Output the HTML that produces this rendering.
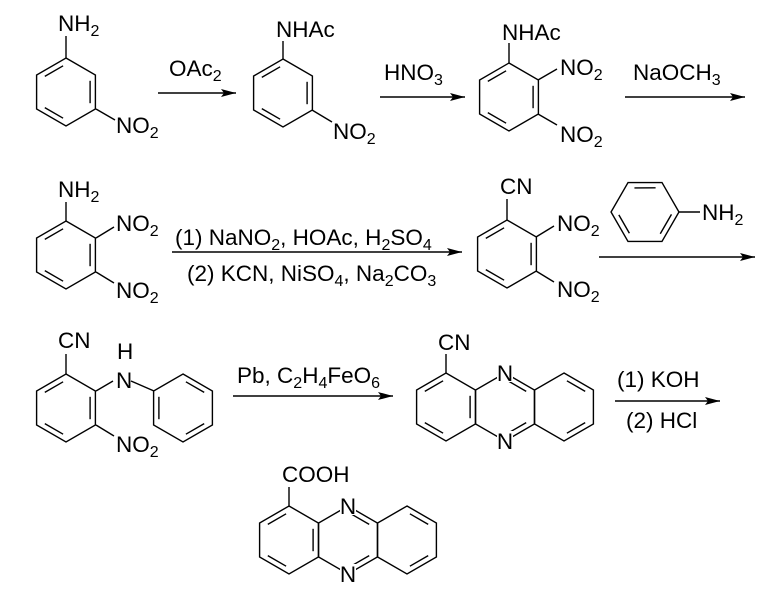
<!DOCTYPE html>
<html><head><meta charset="utf-8"><style>
html,body{margin:0;padding:0;background:#fff;}
svg{display:block;}
text{font-family:"Liberation Sans",Arial,sans-serif;font-size:22.5px;fill:#000;}
</style></head><body>
<svg width="781" height="598" viewBox="0 0 781 598" xmlns="http://www.w3.org/2000/svg">
<defs>
<marker id="ah" markerWidth="16" markerHeight="10" refX="15" refY="5" orient="auto" markerUnits="userSpaceOnUse">
<path d="M0,1 L15,5 L0,9 L3,5 Z" fill="#000"/>
</marker>
<polygon id="hex" points="0,-34 29.4,-17 29.4,17 0,34 -29.4,17 -29.4,-17" fill="none" stroke="#000" stroke-width="1.4"/>
<g id="A" stroke="#000" stroke-width="1.4">
<line x1="24.1" y1="-11.2" x2="24.1" y2="11.2"/>
<line x1="-2.9" y1="26.2" x2="-21.2" y2="15.6"/>
<line x1="-21.2" y1="-15.6" x2="-2.9" y2="-26.2"/>
</g>
<g id="B" stroke="#000" stroke-width="1.4">
<line x1="2.9" y1="-26.2" x2="21.2" y2="-15.6"/>
<line x1="21.2" y1="15.6" x2="2.9" y2="26.2"/>
<line x1="-24.1" y1="-11.2" x2="-24.1" y2="11.2"/>
</g>
<g id="P" stroke="#000" stroke-width="1.4">
<line x1="2.9" y1="-26.2" x2="21.2" y2="-15.6"/>
<line x1="21.2" y1="15.6" x2="2.9" y2="26.2"/>
</g>
</defs>
<g stroke="#000" stroke-width="1.4" fill="none">
<line x1="158" y1="93" x2="236" y2="93" marker-end="url(#ah)"/>
<line x1="380" y1="97" x2="465" y2="97" marker-end="url(#ah)"/>
<line x1="625" y1="97" x2="745" y2="97" marker-end="url(#ah)"/>
<line x1="172" y1="252" x2="462" y2="252" marker-end="url(#ah)"/>
<line x1="599" y1="257" x2="755" y2="257" marker-end="url(#ah)"/>
<line x1="233" y1="396" x2="393" y2="396" marker-end="url(#ah)"/>
<line x1="615" y1="401" x2="720" y2="401" marker-end="url(#ah)"/>
<line x1="66" y1="58" x2="66" y2="36"/>
<line x1="96" y1="109" x2="115" y2="120"/>
<line x1="283" y1="59" x2="283" y2="41"/>
<line x1="312" y1="110" x2="332" y2="122"/>
<line x1="509" y1="63" x2="509" y2="43"/>
<line x1="538" y1="80" x2="557" y2="69"/>
<line x1="538" y1="114" x2="557" y2="125"/>
<line x1="66" y1="221" x2="66" y2="202"/>
<line x1="96" y1="238" x2="114" y2="227"/>
<line x1="96" y1="272" x2="114" y2="283"/>
<line x1="507" y1="220" x2="507" y2="199"/>
<line x1="536" y1="237" x2="554" y2="226"/>
<line x1="536" y1="271" x2="554" y2="282"/>
<line x1="679" y1="212" x2="700" y2="212"/>
<line x1="66" y1="374" x2="66" y2="354"/>
<line x1="96" y1="391" x2="113" y2="381"/>
<line x1="131" y1="381" x2="154" y2="391"/>
<line x1="96" y1="425" x2="114" y2="436"/>
<line x1="446" y1="373" x2="446" y2="354"/>
<line x1="289" y1="506" x2="289" y2="487"/>
</g>
<use href="#hex" x="66" y="92"/><use href="#A" x="66" y="92"/>
<use href="#hex" x="283" y="93"/><use href="#A" x="283" y="93"/>
<use href="#hex" x="509" y="97"/><use href="#A" x="509" y="97"/>
<use href="#hex" x="66" y="255"/><use href="#A" x="66" y="255"/>
<use href="#hex" x="507" y="254"/><use href="#A" x="507" y="254"/>
<g transform="translate(645,212) rotate(30)"><use href="#hex"/><use href="#A"/></g>
<use href="#hex" x="66" y="408"/><use href="#A" x="66" y="408"/>
<use href="#hex" x="183" y="408"/><use href="#B" x="183" y="408"/>
<use href="#hex" x="446" y="407"/><use href="#A" x="446" y="407"/>
<use href="#hex" x="505" y="407"/><use href="#P" x="505" y="407"/>
<use href="#hex" x="564" y="407"/><use href="#P" x="564" y="407"/>
<use href="#hex" x="289" y="540"/><use href="#A" x="289" y="540"/>
<use href="#hex" x="348" y="540"/><use href="#P" x="348" y="540"/>
<use href="#hex" x="407" y="540"/><use href="#P" x="407" y="540"/>
<rect x="497" y="363" width="16" height="19" fill="#fff"/>
<rect x="497" y="431" width="16" height="19" fill="#fff"/>
<rect x="340" y="496" width="16" height="19" fill="#fff"/>
<rect x="340" y="564" width="16" height="19" fill="#fff"/>
<text x="58" y="31">NH<tspan dy="5" font-size="16">2</tspan></text>
<text x="116" y="133">NO<tspan dy="5" font-size="16">2</tspan></text>
<text x="169" y="76">OAc<tspan dy="5" font-size="16">2</tspan></text>
<text x="276" y="37">NHAc</text>
<text x="333" y="139">NO<tspan dy="5" font-size="16">2</tspan></text>
<text x="384" y="80">HNO<tspan dy="5" font-size="16">3</tspan></text>
<text x="502" y="40">NHAc</text>
<text x="560" y="75">NO<tspan dy="5" font-size="16">2</tspan></text>
<text x="560" y="142">NO<tspan dy="5" font-size="16">2</tspan></text>
<text x="633" y="80">NaOCH<tspan dy="5" font-size="16">3</tspan></text>
<text x="58" y="197">NH<tspan dy="5" font-size="16">2</tspan></text>
<text x="116" y="231">NO<tspan dy="5" font-size="16">2</tspan></text>
<text x="116" y="298">NO<tspan dy="5" font-size="16">2</tspan></text>
<text x="175" y="245">(1) NaNO<tspan dy="5" font-size="16">2</tspan><tspan dy="-5">, HOAc, H</tspan><tspan dy="5" font-size="16">2</tspan><tspan dy="-5">SO</tspan><tspan dy="5" font-size="16">4</tspan></text>
<text x="187" y="281">(2) KCN, NiSO<tspan dy="5" font-size="16">4</tspan><tspan dy="-5">, Na</tspan><tspan dy="5" font-size="16">2</tspan><tspan dy="-5">CO</tspan><tspan dy="5" font-size="16">3</tspan></text>
<text x="500" y="194">CN</text>
<text x="557" y="231">NO<tspan dy="5" font-size="16">2</tspan></text>
<text x="557" y="297">NO<tspan dy="5" font-size="16">2</tspan></text>
<text x="702" y="220">NH<tspan dy="5" font-size="16">2</tspan></text>
<text x="58" y="348">CN</text>
<text x="117" y="359">H</text>
<text x="116" y="388">N</text>
<text x="116" y="452">NO<tspan dy="5" font-size="16">2</tspan></text>
<text x="237" y="383">Pb, C<tspan dy="5" font-size="16">2</tspan><tspan dy="-5">H</tspan><tspan dy="5" font-size="16">4</tspan><tspan dy="-5">FeO</tspan><tspan dy="5" font-size="16">6</tspan></text>
<text x="438" y="350">CN</text>
<text x="505" y="381" text-anchor="middle">N</text>
<text x="505" y="449" text-anchor="middle">N</text>
<text x="617" y="387">(1) KOH</text>
<text x="626" y="428">(2) HCl</text>
<text x="282" y="482">COOH</text>
<text x="348" y="514" text-anchor="middle">N</text>
<text x="348" y="582" text-anchor="middle">N</text>
</svg>
</body></html>
